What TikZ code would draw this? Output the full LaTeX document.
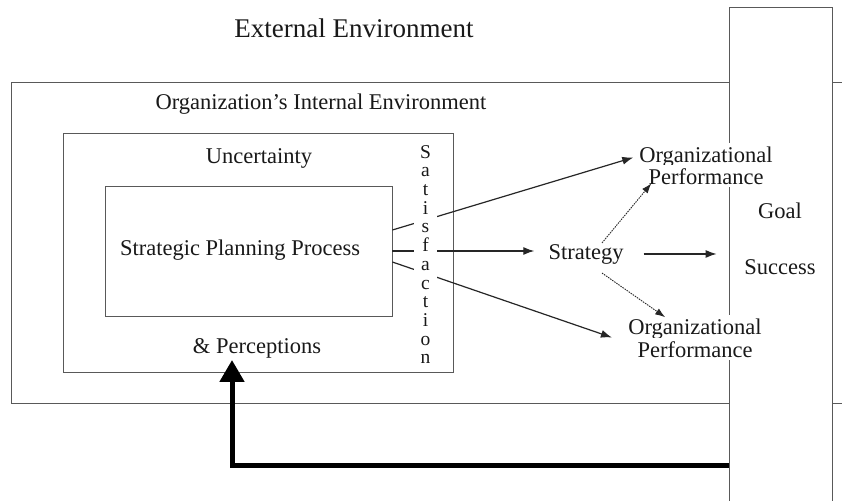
\documentclass[tikz,border=0pt]{standalone}
\usepackage{fontspec}
\setmainfont{Liberation Serif}
\usetikzlibrary{arrows.meta,calc}
\begin{document}
\begin{tikzpicture}[x=1pt,y=-1pt,
  box/.style={draw=black!65, line width=0.8pt},
  lbl/.style={font=\fontsize{22.5}{22}\selectfont, text=black!90, inner sep=1pt, anchor=base},
  arr/.style={-{Latex[length=11pt,width=8pt]}, line width=1.2pt, draw=black!85},
  dotarr/.style={-{Latex[length=10pt,width=7pt]}, line width=0.9pt, dash pattern=on 1.5pt off 1pt, draw=black!85},
  fbarr/.style={-{Triangle[length=22pt,width=24pt]}, line width=5pt, draw=black, line join=miter}]
\useasboundingbox (0,0) rectangle (842,500);
\fill[white] (0,0) rectangle (842,500);

% internal environment frame (continues behind the tall box)
\draw[box] (842,82) -- (11,82) -- (11,403) -- (842,403);

% tall goal box
\node[box, fill=white, minimum width=103pt, minimum height=520pt, inner sep=0pt] (goalbox) at (780.5,267) {};

% uncertainty box and planning box
\node[box, minimum width=390pt, minimum height=239pt, inner sep=0pt] (unc) at (258,252.5) {};
\node[box, minimum width=287pt, minimum height=130pt, inner sep=0pt] (spp) at (248.5,251) {};

% texts
\node[lbl, font=\fontsize{27}{30}\selectfont] (extenv) at (354,38) {External Environment};
\node[lbl] (intenv) at (321,110) {Organization’s Internal Environment};
\node[lbl] (unctext) at (259,163) {Uncertainty};
\node[lbl] (spptext) at (240,255) {Strategic Planning Process};
\node[lbl] (perc) at (257,353) {\& Perceptions};
\node[lbl] (strategy) at (586,259) {Strategy};
\node[lbl, fill=white, inner sep=3pt] (op1a) at (706,162) {Organizational};
\node[lbl, fill=white, inner sep=3pt] (op1b) at (706,184) {Performance};
\node[lbl, fill=white, inner sep=3pt] (op2a) at (695,334) {Organizational};
\node[lbl, fill=white, inner sep=3pt] (op2b) at (695,357) {Performance};
\node[lbl] (goal) at (780,218) {Goal};
\node[lbl] (success) at (780,274) {Success};

% connectors from the planning process
\draw[arr, shorten >=3pt] ($(spp.east)+(0,-21)$) -- (op1a.west);
\draw[arr, shorten >=13pt] (spp.east) -- (spp.east -| strategy.west);
\draw[arr, shorten >=14pt] ($(spp.east)+(0,11)$) -- (op2a.south west);

% satisfaction (vertical letters) covering the connectors
\node[font=\fontsize{19.5}{18.7}\selectfont, text=black!90, fill=white, inner sep=1pt, minimum width=23pt, align=center] (sat) at (425.5,254.5)
  {S\\a\\t\\i\\s\\f\\a\\c\\t\\i\\o\\n};

% connectors from strategy
\draw[dotarr] ($(strategy.north)+(16,0)$) -- ($(op1b.south west)+(6,-4)$);
\draw[dotarr] ($(strategy.south)+(16,8)$) -- ($(op2a.north west)+(40,2)$);
\draw[arr] ($(strategy.east)+(19,0)$) -- ($(strategy.east -| goalbox.west)+(-12,0)$);

% feedback loop
\coordinate (fbs) at ($(goalbox.west)+(0,198)$);
\coordinate (fbe) at ($(perc.south)+(-25,1)$);
\draw[fbarr] (fbs) -| (fbe);
\end{tikzpicture}
\end{document}
